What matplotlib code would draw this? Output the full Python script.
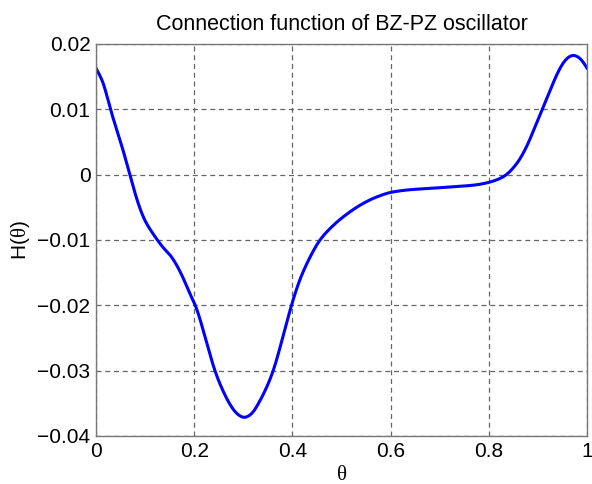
import numpy as np
import matplotlib
matplotlib.use("Agg")
import matplotlib.pyplot as plt
from matplotlib.ticker import FixedLocator

theta = [0.0, 0.015, 0.0285, 0.049, 0.069, 0.080, 0.090, 0.100, 0.113, 0.124,
         0.137, 0.151, 0.164, 0.178, 0.191, 0.204, 0.222, 0.242, 0.258, 0.273,
         0.287, 0.302, 0.317, 0.331, 0.346, 0.361, 0.380, 0.398, 0.415, 0.436,
         0.456, 0.490, 0.517, 0.544, 0.572, 0.601, 0.640, 0.680, 0.728, 0.770,
         0.799, 0.830, 0.857, 0.877, 0.894, 0.911, 0.928, 0.945, 0.959, 0.972,
         0.986, 1.0]
H = [0.0163, 0.0140, 0.0102, 0.0053, 0.0000, -0.0030, -0.0053, -0.0071, -0.0087, -0.0099,
     -0.0112, -0.0123, -0.0138, -0.0159, -0.0182, -0.0203, -0.0248, -0.0300, -0.0330, -0.0352,
     -0.0366, -0.0372, -0.0366, -0.0350, -0.0328, -0.0300, -0.0250, -0.0200, -0.0161, -0.0126,
     -0.0100, -0.0073, -0.0057, -0.0044, -0.0034, -0.0027, -0.0023, -0.0021, -0.00185, -0.0016,
     -0.0012, -0.0003, 0.0017, 0.0043, 0.0073, 0.0104, 0.0135, 0.0163, 0.0178, 0.0183,
     0.0178, 0.0163]
xticks = [0, 0.2, 0.4, 0.6, 0.8, 1]
xticklabels = ["0", "0.2", "0.4", "0.6", "0.8", "1"]
yticks = [-0.04, -0.03, -0.02, -0.01, 0, 0.01, 0.02]
yticklabels = ["\u22120.04", "\u22120.03", "\u22120.02", "\u22120.01", "0", "0.01", "0.02"]

plt.rcParams['font.family'] = ['Liberation Sans', 'DejaVu Sans']
plt.rcParams['mathtext.fontset'] = 'custom'
plt.rcParams['mathtext.rm'] = 'Liberation Serif'
plt.rcParams['mathtext.it'] = 'Liberation Serif'


def pchip(tp, hp, xs):
    tp = np.asarray(tp, float)
    hp = np.asarray(hp, float)
    n = len(tp)
    d = np.diff(tp)
    delta = np.diff(hp) / d
    m = np.zeros(n)
    for i in range(1, n - 1):
        if delta[i - 1] * delta[i] <= 0:
            m[i] = 0.0
        else:
            w1 = 2 * d[i] + d[i - 1]
            w2 = d[i] + 2 * d[i - 1]
            m[i] = (w1 + w2) / (w1 / delta[i - 1] + w2 / delta[i])
    m[0] = delta[0]
    m[-1] = delta[-1]
    idx = np.clip(np.searchsorted(tp, xs) - 1, 0, n - 2)
    dx = tp[idx + 1] - tp[idx]
    s = (xs - tp[idx]) / dx
    h00 = 2 * s**3 - 3 * s**2 + 1
    h10 = s**3 - 2 * s**2 + s
    h01 = -2 * s**3 + 3 * s**2
    h11 = s**3 - s**2
    return h00 * hp[idx] + h10 * dx * m[idx] + h01 * hp[idx + 1] + h11 * dx * m[idx + 1]


fig = plt.figure(figsize=(5.92, 4.84), dpi=100)
ax = fig.add_axes([0.1622, 0.0992, 0.8294, 0.8099])

tt = np.linspace(0, 1, 800)
hh = pchip(theta, H, tt)
# light smoothing to remove reading noise
k = np.ones(11) / 11
hp_ = np.pad(hh, 5, mode='reflect', reflect_type='odd')
hs = np.convolve(hp_, k, mode='valid')
ax.plot(tt, hs, color='#0000ff', lw=2.2)

ax.set_xlim(0, 1)
ax.set_ylim(-0.04, 0.02)
ax.xaxis.set_major_locator(FixedLocator(xticks))
ax.yaxis.set_major_locator(FixedLocator(yticks))
ax.set_xticklabels(xticklabels)
ax.set_yticklabels(yticklabels)
ax.tick_params(labelsize=15, direction='in', length=0, pad=4, colors='black')
ax.grid(True, color='#666666', linestyle=(0, (4, 3)), lw=0.9)
for sp in ax.spines.values():
    sp.set_color('#777777')
    sp.set_linewidth(1.0)

ax.set_title("Connection function of BZ-PZ oscillator", fontsize=15.5, pad=10)
ax.set_ylabel(r"H($\mathrm{\theta}$)", fontsize=15, labelpad=4)
ax.set_xlabel(r"$\mathrm{\theta}$", fontsize=15, labelpad=3)

fig.savefig("out.png", dpi=100)
